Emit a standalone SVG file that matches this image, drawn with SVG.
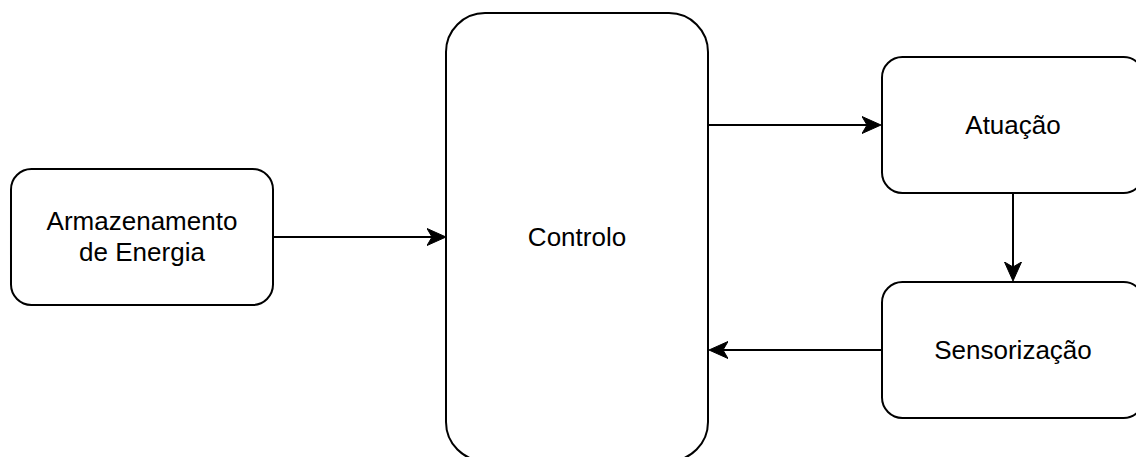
<svg xmlns="http://www.w3.org/2000/svg" width="1136" height="457" viewBox="0 0 1136 457">
  <style>
    .box { fill: #ffffff; stroke: #000000; stroke-width: 2; }
    .label { font-family: "Liberation Sans", Arial, Helvetica, sans-serif; font-size: 26px; fill: #000000; text-anchor: middle; }
    .edge { fill: none; stroke: #000000; stroke-width: 2; marker-end: url(#arrow); }
  </style>
  <defs>
    <!-- classic filled arrowhead; refX sits on the notch so the line tucks inside -->
    <marker id="arrow" markerUnits="userSpaceOnUse" markerWidth="20" markerHeight="20" viewBox="0 -10 20 20" refX="5" refY="0" orient="auto">
      <path d="M19,0 L0,-8.5 L5,0 L0,8.5 Z" fill="#000000" stroke="#000000" stroke-width="1" stroke-linejoin="miter"/>
    </marker>
  </defs>
  <rect width="1136" height="457" fill="#ffffff"/>

  <g id="armazenamento">
    <rect class="box" x="11" y="169" width="262" height="136" rx="20.4" ry="20.4"/>
    <text class="label" x="142" y="230">Armazenamento</text>
    <text class="label" x="142" y="261">de Energia</text>
  </g>

  <g id="controlo">
    <rect class="box" x="446" y="13" width="262" height="448" rx="39" ry="39"/>
    <text class="label" x="577" y="246">Controlo</text>
  </g>

  <g id="atuacao">
    <rect class="box" x="882" y="57" width="262" height="136" rx="20.4" ry="20.4"/>
    <text class="label" x="1013" y="134">Atuação</text>
  </g>

  <g id="sensorizacao">
    <rect class="box" x="882" y="282" width="262" height="136" rx="20.4" ry="20.4"/>
    <text class="label" x="1013" y="359">Sensorização</text>
  </g>

  <g id="connectors">
    <path class="edge" d="M273,237 H432"/>
    <path class="edge" d="M708,125 H867"/>
    <path class="edge" d="M1013,193 V267"/>
    <path class="edge" d="M882,350 H723"/>
  </g>
</svg>
